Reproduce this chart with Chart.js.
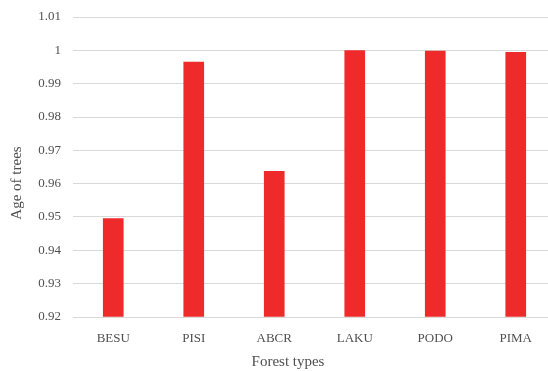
<!DOCTYPE html>
<html>
<head>
<meta charset="utf-8">
<script src="https://cdn.jsdelivr.net/npm/chart.js@4"></script>
<style>
  html, body { margin: 0; padding: 0; background: #ffffff; overflow: hidden; }
  #wrap { width: 548px; height: 371px; overflow: hidden; }
  canvas { display: block; }
</style>
</head>
<body>
<div id="wrap"><canvas id="chart" width="556" height="371"></canvas></div>
<script>
// Forest type codes along the x axis
const forestTypes = ['BESU', 'PISI', 'ABCR', 'LAKU', 'PODO', 'PIMA'];
// Age-of-trees value per forest type
const ageValues = [0.9495, 0.9965, 0.9637, 0.9999, 0.9998, 0.9994];
// Value axis range and step
const yMin = 0.92;
const yMax = 1.01;
const yStep = 0.01;
// Axis titles
const xTitle = 'Forest types';
const yTitle = 'Age of trees';

const textColor = '#505050';
const serif = "'Liberation Serif', 'DejaVu Serif', serif";

// Axis titles drawn relative to the plot area
const axisTitles = {
  id: 'axisTitles',
  afterDraw(chart) {
    const ctx = chart.ctx;
    const area = chart.chartArea;
    ctx.save();
    ctx.fillStyle = textColor;
    ctx.font = '15px ' + serif;
    ctx.textAlign = 'center';
    ctx.textBaseline = 'middle';
    ctx.fillText(xTitle, area.left + 215, area.bottom + 45);
    ctx.translate(17, area.top + 166);
    ctx.rotate(-Math.PI / 2);
    ctx.fillText(yTitle, 0, 0);
    ctx.restore();
  }
};

new Chart(document.getElementById('chart'), {
  type: 'bar',
  data: {
    labels: forestTypes,
    datasets: [{
      data: ageValues,
      backgroundColor: '#ee2a2a',
      borderWidth: 0,
      barThickness: 20,
      base: yMin
    }]
  },
  options: {
    responsive: false,
    animation: false,
    devicePixelRatio: 1,
    layout: { padding: { top: 17, left: 0, right: 0, bottom: 0 } },
    plugins: {
      legend: { display: false },
      tooltip: { enabled: false }
    },
    scales: {
      x: {
        grid: { display: false },
        border: { display: false },
        ticks: {
          color: textColor,
          font: { family: serif, size: 13 },
          padding: 6,
          maxRotation: 0
        },
        afterFit(scale) {
          scale.height = 54;
          scale.paddingLeft = 0;
          scale.paddingRight = 0;
        }
      },
      y: {
        min: yMin,
        max: yMax,
        grid: { color: '#d9d9d9', lineWidth: 1, drawTicks: false },
        border: { display: false },
        ticks: {
          stepSize: yStep,
          color: textColor,
          font: { family: serif, size: 13 },
          padding: 12,
          callback: (v) => String(Number(v.toFixed(2)))
        },
        afterFit(scale) {
          scale.width = 73;
          scale.paddingTop = 0;
          scale.paddingBottom = 0;
        }
      }
    }
  },
  plugins: [axisTitles]
});
</script>
</body>
</html>
